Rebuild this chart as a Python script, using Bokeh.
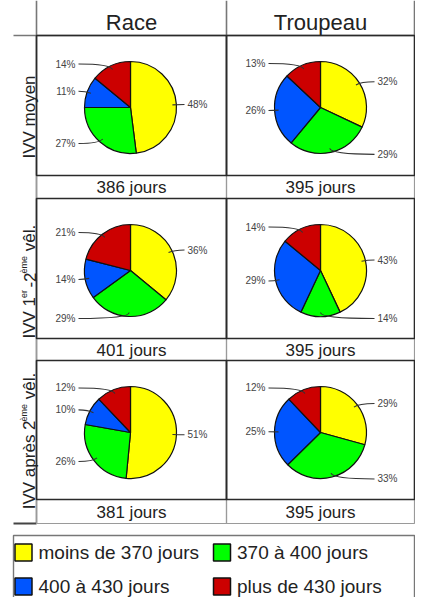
import math
from bokeh.plotting import figure
from bokeh.models import Range1d
from bokeh.embed import file_html
from bokeh.resources import INLINE

# ---------------- data ----------------
col_titles = ["Race", "Troupeau"]
row_titles = ["IVV moyen", "IVV 1er-2ème vêl.", "IVV après 2ème vêl."]
categories = ["moins de 370 jours", "370 à 400 jours", "400 à 430 jours", "plus de 430 jours"]
colors = ["#FFFF00", "#00FF00", "#0055FF", "#CC0000"]

race_moyen = [48, 27, 11, 14]
troupeau_moyen = [32, 29, 26, 13]
race_1_2 = [36, 29, 14, 21]
troupeau_1_2 = [43, 14, 29, 14]
race_apres = [51, 26, 10, 12]
troupeau_apres = [29, 33, 25, 12]

race_days = [386, 401, 381]
troupeau_days = [395, 395, 395]

pies = [[race_moyen, troupeau_moyen], [race_1_2, troupeau_1_2], [race_apres, troupeau_apres]]
days = [[race_days[i], troupeau_days[i]] for i in range(3)]

# ---------------- layout ----------------
FONT = "Liberation Sans"
W, H = 415, 597
p = figure(width=W, height=H, x_range=Range1d(0, W), y_range=Range1d(H, 0),
           output_backend="svg", toolbar_location=None, min_border=0,
           x_axis_location=None, y_axis_location=None)
p.grid.visible = False
p.outline_line_color = None
p.background_fill_color = "white"

col_x = [36, 226, 414]
box_top = [35, 198, 360]
box_bot = [175, 338, 499]
days_bot = [198, 360, 523]
pie_cx = [130, 320]
R = 46

grid_col = "#777777"
dark = "#2a2a2a"
light = "#9a9a9a"
txt = "#222222"

# header lines
p.segment(x0=[13], y0=[35], x1=[415], y1=[35], line_color=grid_col, line_width=1.6)
p.segment(x0=[36], y0=[0], x1=[36], y1=[523], line_color=grid_col, line_width=1.6)
p.segment(x0=[226, 414], y0=[0, 0], x1=[226, 414], y1=[35, 35], line_color=grid_col, line_width=1.6)
p.segment(x0=[13], y0=[523], x1=[36], y1=[523], line_color="#444444", line_width=1.8)

# header texts
p.text(x=[(col_x[0] + col_x[1]) / 2, (col_x[1] + col_x[2]) / 2], y=[22, 22], text=col_titles,
       text_align="center", text_baseline="middle", text_font_size="22px",
       text_font={"value": FONT}, text_color=txt)

# days cells (light) then pie boxes (dark)
dl, dr, dt, db = [], [], [], []
bl, br, bt, bb = [], [], [], []
for i in range(3):
    for j in range(2):
        dl.append(col_x[j]); dr.append(col_x[j + 1]); dt.append(box_bot[i]); db.append(days_bot[i])
        bl.append(col_x[j]); br.append(col_x[j + 1]); bt.append(box_top[i]); bb.append(box_bot[i])
p.quad(left=dl, right=dr, top=dt, bottom=db, fill_color=None, line_color=light, line_width=1.2)
p.quad(left=bl, right=br, top=bt, bottom=bb, fill_color=None, line_color=dark, line_width=1.6)

# days texts
tx, ty, tt = [], [], []
for i in range(3):
    for j in range(2):
        tx.append((col_x[j] + col_x[j + 1]) / 2)
        ty.append((box_bot[i] + days_bot[i]) / 2 + 0.5)
        tt.append(f"{days[i][j]} jours")
p.text(x=tx, y=ty, text=tt, text_align="center", text_baseline="middle",
       text_font_size="17px", text_font={"value": FONT}, text_color=txt)

# pies
for i in range(3):
    cy = box_top[i] + 72
    for j in range(2):
        cx = pie_cx[j]
        vals = pies[i][j]
        tot = float(sum(vals))
        cum = 0.0
        sa, ea, fc = [], [], []
        lx, ly, la, lt = [], [], [], []
        qx0, qy0, qx1, qy1, qcx, qcy = [], [], [], [], [], []
        for k, v in enumerate(vals):
            f0 = cum / tot
            f1 = (cum + v) / tot
            cum += v
            sa.append(math.pi / 2 - 2 * math.pi * f1)
            ea.append(math.pi / 2 - 2 * math.pi * f0)
            fc.append(colors[k])
            th = 2 * math.pi * (f0 + f1) / 2
            right = (f0 + f1) / 2 <= 0.5 + 1e-9
            yl = cy - 48 * math.cos(th)
            qx0.append(cx + 42 * math.sin(th)); qy0.append(cy - 42 * math.cos(th))
            qcx.append(cx + 48 * math.sin(th)); qcy.append(yl)
            qx1.append(cx + 54 if right else cx - 52); qy1.append(yl)
            lx.append(cx + 57 if right else cx - 55); ly.append(yl)
            la.append("left" if right else "right")
            lt.append(f"{v}%")
        p.wedge(x=[cx] * 4, y=[cy] * 4, radius=R, radius_units="screen",
                start_angle=sa, end_angle=ea, direction="anticlock",
                fill_color=fc, line_color="#111111", line_width=1.2)
        p.quadratic(x0=qx0, y0=qy0, x1=qx1, y1=qy1, cx=qcx, cy=qcy,
                    line_color="#333333", line_width=1.1)
        p.text(x=lx, y=ly, text=lt, text_align=la, text_baseline="middle",
               text_font_size="10px", text_font={"value": FONT}, text_color="#444444")

# rotated row labels (with superscripts)
wid = {"I": 278, "V": 667, " ": 278, "1": 556, "2": 556, "e": 556, "è": 556, "ê": 556,
       "r": 333, "-": 333, "m": 833, "v": 500, "l": 222, ".": 278, "a": 556, "p": 556,
       "s": 500, "y": 500, "o": 556, "n": 556}


def tw(s, size):
    return sum(wid.get(c, 556) for c in s) * size / 1000.0


label_pieces = [
    [("IVV moyen", False)],
    [("IVV 1", False), ("er", True), (" -2", False), ("ème", True), (" vêl.", False)],
    [("IVV après 2", False), ("ème", True), (" vêl.", False)],
]
label_centers = [116.5, 279, 440]
BIG, SMALL = 17, 9
for i, pieces in enumerate(label_pieces):
    total = sum(tw(s, SMALL if sup else BIG) for s, sup in pieces)
    y = label_centers[i] + total / 2
    for s, sup in pieces:
        size = SMALL if sup else BIG
        lead = len(s) - len(s.lstrip(" "))
        y -= lead * wid[" "] * size / 1000.0 * (0.5 if s.startswith(" -") else 1.0)
        core = s.lstrip(" ")
        if sup:
            y += 1.0
        p.text(x=[23.0 if sup else 29.0], y=[y], text=[core], angle=math.pi / 2,
               text_align="left", text_baseline="alphabetic",
               text_font_size=f"{size}px", text_font={"value": FONT}, text_color=txt)
        y -= tw(core, size)

# legend
p.quad(left=[13], right=[414], top=[535], bottom=[606], fill_color=None, line_color=grid_col, line_width=1.4)
leg_x = [23, 221.5, 23, 221.5]
leg_y = [552, 552, 586, 586]
p.rect(x=leg_x, y=leg_y, width=17, height=17, fill_color=colors, line_color="#111111", line_width=1.5)
p.text(x=[x + 15 for x in leg_x], y=[y - 0.5 for y in leg_y], text=categories,
       text_align="left", text_baseline="middle", text_font_size="19px",
       text_font={"value": FONT}, text_color=txt)

open("out.html", "w").write(file_html(p, INLINE))
